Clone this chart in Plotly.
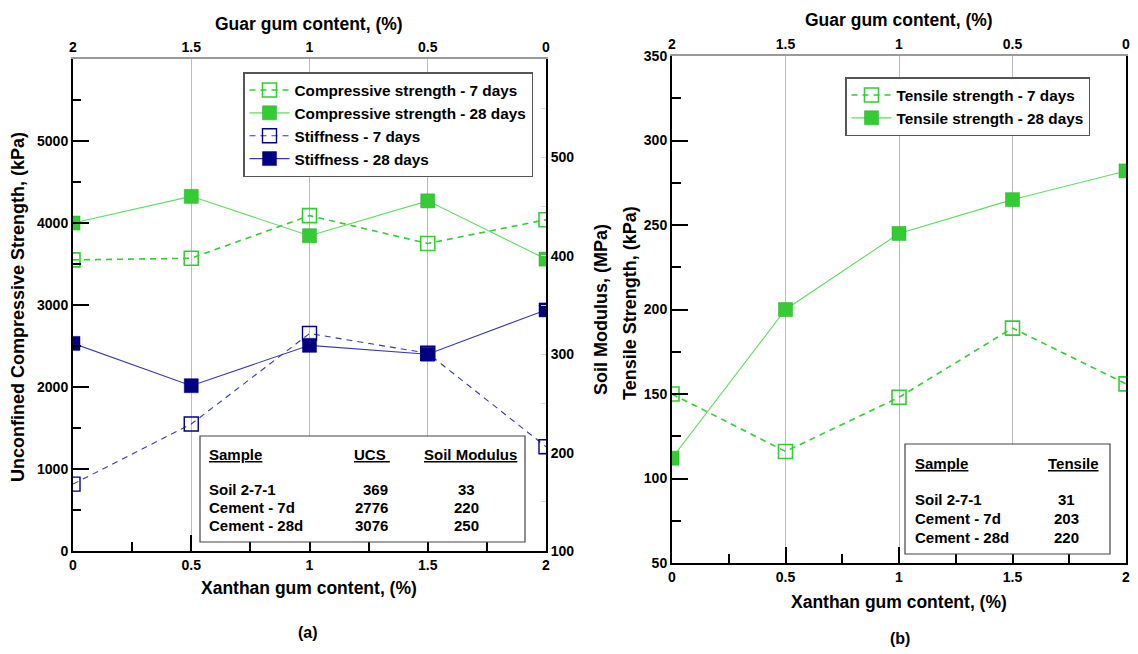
import plotly.graph_objects as go

# ---------------- data ----------------
xanthan = [0, 0.5, 1, 1.5, 2]
xanthan_labels = ["0", "0.5", "1", "1.5", "2"]
guar_ticks = [2, 1.5, 1, 0.5, 0]
guar_labels = ["2", "1.5", "1", "0.5", "0"]

ucs_7 = [3550, 3570, 4090, 3750, 4040]
ucs_28 = [4000, 4325, 3845, 4270, 3560]
stiff_7 = [168, 229, 321, 301, 206]
stiff_28 = [311, 268, 309, 300, 345]

tensile_7 = [150, 116, 148, 189, 156]
tensile_28 = [112, 200, 245, 265, 282]

table_samples = ["Soil 2-7-1", "Cement - 7d", "Cement - 28d"]
table_a_ucs = ["369", "2776", "3076"]
table_a_mod = ["33", "220", "250"]
table_b_tensile = ["31", "203", "220"]

# ---------------- style ----------------
W, H = 1138, 654
FONT = "Liberation Sans, Arial, sans-serif"
GREEN = "#33cc33"
GREEN_LINE = "#5fdc5f"
NAVY = "#000080"
NAVY_LINE = "#3a3aa8"
GRID = "#bdbdbd"


def px(x):
    return x / W


def py(y):
    return 1 - y / H


fig = go.Figure()

fig.add_trace(go.Scatter(x=xanthan, y=ucs_7, name="Compressive strength - 7 days",
                         mode="lines+markers", xaxis="x", yaxis="y", legend="legend",
                         line=dict(color=GREEN, width=1.6, dash="6px,5px"),
                         marker=dict(symbol="square-open", size=14, color=GREEN, line=dict(width=1.6))))
fig.add_trace(go.Scatter(x=xanthan, y=ucs_28, name="Compressive strength - 28 days",
                         mode="lines+markers", xaxis="x", yaxis="y", legend="legend",
                         line=dict(color=GREEN_LINE, width=1.1),
                         marker=dict(symbol="square", size=14, color=GREEN, line=dict(width=0.5, color="#2aa82a"))))
fig.add_trace(go.Scatter(x=xanthan, y=stiff_7, name="Stiffness - 7 days",
                         mode="lines+markers", xaxis="x", yaxis="y2", legend="legend",
                         line=dict(color=NAVY_LINE, width=1.1, dash="6px,5px"),
                         marker=dict(symbol="square-open", size=14, color=NAVY, line=dict(width=1.4))))
fig.add_trace(go.Scatter(x=xanthan, y=stiff_28, name="Stiffness - 28 days",
                         mode="lines+markers", xaxis="x", yaxis="y2", legend="legend",
                         line=dict(color=NAVY_LINE, width=1.1),
                         marker=dict(symbol="square", size=14, color=NAVY, line=dict(width=0.5, color=NAVY))))

fig.add_trace(go.Scatter(x=xanthan, y=tensile_7, name="Tensile strength - 7 days",
                         mode="lines+markers", xaxis="x3", yaxis="y3", legend="legend2",
                         line=dict(color=GREEN, width=1.6, dash="6px,5px"),
                         marker=dict(symbol="square-open", size=14, color=GREEN, line=dict(width=1.6))))
fig.add_trace(go.Scatter(x=xanthan, y=tensile_28, name="Tensile strength - 28 days",
                         mode="lines+markers", xaxis="x3", yaxis="y3", legend="legend2",
                         line=dict(color=GREEN_LINE, width=1.1),
                         marker=dict(symbol="square", size=14, color=GREEN, line=dict(width=0.5, color="#2aa82a"))))

tickfont = dict(family=FONT, size=14, color="black", weight="bold")

LX = [px(73), px(546)]
LY = [py(551), py(59)]
RX = [px(672), px(1126)]
RY = [py(563), py(56)]

bottom_common = dict(range=[0, 2], tickvals=xanthan, ticktext=xanthan_labels,
                     ticks="inside", ticklen=16, tickwidth=1.5, tickcolor="black",
                     minor=dict(tickvals=[0.25, 0.75, 1.25, 1.75], ticks="inside", ticklen=9,
                                tickwidth=1.5, tickcolor="black", showgrid=False),
                     showline=True, linecolor="black", linewidth=2, automargin=False,
                     showgrid=True, gridcolor=GRID, gridwidth=1, zeroline=False,
                     tickfont=tickfont, fixedrange=True)

top_common = dict(range=[2, 0], tickvals=guar_ticks, ticktext=guar_labels, side="top",
                  ticks="", showline=True, linecolor="#9a9a9a", linewidth=1.5, automargin=False,
                  showgrid=False, zeroline=False, tickfont=tickfont, fixedrange=True)

legend_font = dict(family=FONT, size=15.3, color="black", weight="bold")

fig.update_layout(
    width=W, height=H,
    margin=dict(l=0, r=0, t=0, b=0, pad=0, autoexpand=False),
    paper_bgcolor="white", plot_bgcolor="white",
    font=dict(family=FONT, size=14, color="black", weight="bold"),
    showlegend=True,
    xaxis=dict(domain=LX, anchor="y", **bottom_common),
    xaxis2=dict(domain=LX, anchor="y", overlaying="x", **top_common),
    yaxis=dict(domain=LY, anchor="x", range=[0, 6000],
               tickvals=[0, 1000, 2000, 3000, 4000, 5000],
               ticks="inside", ticklen=16, tickwidth=1.5, tickcolor="black",
               minor=dict(tickvals=[500, 1500, 2500, 3500, 4500, 5500], ticks="inside",
                          ticklen=8, tickwidth=1.5, tickcolor="black"),
               showline=True, linecolor="black", linewidth=2, showgrid=False, zeroline=False,
               automargin=False, tickfont=tickfont, fixedrange=True),
    yaxis2=dict(domain=LY, anchor="x", overlaying="y", side="right", range=[100, 600],
                tickvals=[100, 200, 300, 400, 500],
                ticks="inside", ticklen=5, tickwidth=1, tickcolor="#d8d8d8",
                minor=dict(tickvals=[150, 250, 350, 450, 550], ticks="inside", ticklen=5,
                           tickwidth=1, tickcolor="#d8d8d8"),
                showline=True, linecolor="black", linewidth=2, showgrid=False, zeroline=False,
                automargin=False, tickfont=tickfont, fixedrange=True),
    xaxis3=dict(domain=RX, anchor="y3", **bottom_common),
    xaxis4=dict(domain=RX, anchor="y3", overlaying="x3", **top_common),
    yaxis3=dict(domain=RY, anchor="x3", range=[50, 350],
                tickvals=[50, 100, 150, 200, 250, 300, 350],
                ticks="inside", ticklen=16, tickwidth=1.5, tickcolor="black",
                minor=dict(tickvals=[75, 125, 175, 225, 275, 325], ticks="inside",
                           ticklen=9, tickwidth=1.5, tickcolor="black"),
                showline=True, linecolor="black", linewidth=2, mirror=True,
                showgrid=False, zeroline=False, automargin=False, tickfont=tickfont, fixedrange=True),
    legend=dict(x=px(243), y=py(72), xanchor="left", yanchor="top",
                bordercolor="#555555", borderwidth=1.5, bgcolor="white",
                font=legend_font, itemwidth=40, tracegroupgap=0),
    legend2=dict(x=px(845), y=py(77), xanchor="left", yanchor="top",
                 bordercolor="#555555", borderwidth=1.5, bgcolor="white",
                 font=legend_font, itemwidth=40, tracegroupgap=0),
)

fig.add_trace(go.Scatter(x=[None], y=[None], xaxis="x2", yaxis="y", showlegend=False, hoverinfo="skip"))
fig.add_trace(go.Scatter(x=[None], y=[None], xaxis="x4", yaxis="y3", showlegend=False, hoverinfo="skip"))

ann = []


def text(x, y, t, size=15, angle=0, xanchor="center", yanchor="middle", align="center"):
    ann.append(dict(x=px(x), y=py(y), xref="paper", yref="paper", text=t, showarrow=False,
                    textangle=angle, xanchor=xanchor, yanchor=yanchor, align=align,
                    font=dict(family=FONT, size=size, color="black", weight="bold")))


# axis titles
text(309, 24, "Guar gum content, (%)", size=17.5)
text(899, 20, "Guar gum content, (%)", size=17.5)
text(309, 588, "Xanthan gum content, (%)", size=17.5)
text(899, 602, "Xanthan gum content, (%)", size=17.5)
text(18, 307, "Unconfined Compressive Strength, (kPa)", size=18, angle=-90)
text(601, 310, "Soil Modulus, (MPa)", size=18, angle=-90)
text(630, 303, "Tensile Strength, (kPa)", size=18, angle=-90)
text(308, 632, "(a)", size=16)
text(900, 638, "(b)", size=16)

TS = 15
# table (a)
fig.add_shape(type="rect", xref="paper", yref="paper", x0=px(200), x1=px(525), y0=py(542), y1=py(436),
              line=dict(color="#444444", width=1.2), fillcolor="white", layer="above")
text(207, 454, "<u>Sample</u>", size=TS, xanchor="left")
text(392, 454, "<u>UCS </u>", size=TS, xanchor="right")
text(470, 454, "<u>Soil Modulus</u>", size=TS)
for i, yy in enumerate([489, 507, 525]):
    text(207, yy, table_samples[i], size=TS, xanchor="left")
    text(390, yy, table_a_ucs[i], size=TS, xanchor="right")
    text(466, yy, table_a_mod[i], size=TS)

# table (b)
fig.add_shape(type="rect", xref="paper", yref="paper", x0=px(905), x1=px(1110), y0=py(554), y1=py(444),
              line=dict(color="#444444", width=1.2), fillcolor="white", layer="above")
text(913, 463, "<u>Sample</u>", size=TS, xanchor="left")
text(1073, 463, "<u>Tensile</u>", size=TS)
for i, yy in enumerate([499, 518, 537]):
    text(913, yy, table_samples[i], size=TS, xanchor="left")
    text(1066, yy, table_b_tensile[i], size=TS)

fig.update_layout(annotations=ann)

fig.write_html("out.html", config={"displayModeBar": False},
               post_script="document.body.style.margin='0';")
